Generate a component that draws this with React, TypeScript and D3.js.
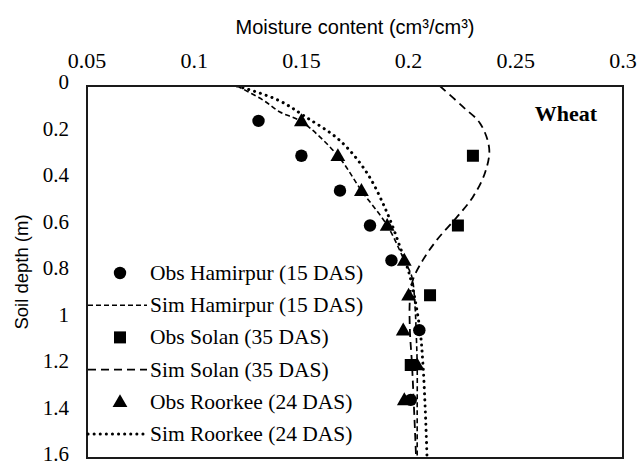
import React from "react";
import * as d3 from "d3";

// Axis ticks
const xTicks = [0.05, 0.1, 0.15, 0.2, 0.25, 0.3];
const xTickLabels = ["0.05", "0.1", "0.15", "0.2", "0.25", "0.3"];
const yTicks = [0, 0.2, 0.4, 0.6, 0.8, 1.0, 1.2, 1.4, 1.6];
const yTickLabels = ["0", "0.2", "0.4", "0.6", "0.8", "1", "1.2", "1.4", "1.6"];

// Observed moisture profiles (depth in m, moisture in cm3/cm3)
const obsHamirpurDepth = [0.15, 0.3, 0.45, 0.6, 0.75, 1.05, 1.35];
const obsHamirpurTheta = [0.13, 0.15, 0.168, 0.182, 0.192, 0.205, 0.201];
const obsSolanDepth = [0.3, 0.6, 0.9, 1.2];
const obsSolanTheta = [0.23, 0.223, 0.21, 0.201];
const obsRoorkeeDepth = [0.15, 0.3, 0.45, 0.6, 0.75, 0.9, 1.05, 1.2, 1.35];
const obsRoorkeeTheta = [0.15, 0.167, 0.178, 0.19, 0.198, 0.2, 0.1975, 0.204, 0.198];

// Simulated moisture profiles
const simHamirpurDepth = [0, 0.06, 0.112, 0.153, 0.3, 0.45, 0.6, 0.75, 0.82, 0.95, 1.05, 1.2, 1.4, 1.6];
const simHamirpurTheta = [0.12, 0.132, 0.14, 0.15, 0.167, 0.178, 0.19, 0.198, 0.2015, 0.203, 0.2035, 0.204, 0.204, 0.204];
const simSolanDepth = [0, 0.09, 0.16, 0.27, 0.374, 0.477, 0.563, 0.662, 0.748, 0.834, 0.92, 1.05, 1.2, 1.6];
const simSolanTheta = [0.2146, 0.2254, 0.2333, 0.2376, 0.2356, 0.23, 0.2226, 0.2132, 0.2067, 0.202, 0.2006, 0.2006, 0.2016, 0.2035];
const simRoorkeeDepth = [0, 0.06, 0.133, 0.235, 0.374, 0.546, 0.692, 0.821, 1.05, 1.2, 1.4, 1.6];
const simRoorkeeTheta = [0.12, 0.139, 0.152, 0.168, 0.1806, 0.19, 0.196, 0.2007, 0.2053, 0.2067, 0.2078, 0.2086];

const legendLabels = [
  "Obs Hamirpur (15 DAS)",
  "Sim Hamirpur (15 DAS)",
  "Obs Solan (35 DAS)",
  "Sim Solan (35 DAS)",
  "Obs Roorkee (24 DAS)",
  "Sim Roorkee (24 DAS)",
];

const W = 638;
const H = 465;
const plot = { left: 87, right: 623, top: 86, bottom: 458 };

const serif = "'Liberation Serif', 'Times New Roman', serif";
const sans = "'Liberation Sans', Arial, sans-serif";

type Pt = { d: number; t: number };
const zip = (ds: number[], ts: number[]): Pt[] => ds.map((d, i) => ({ d, t: ts[i] }));

const lineStyles = {
  hamirpur: { dash: "5 3", width: 1.6, cap: "butt" as const },
  solan: { dash: "8 5", width: 1.8, cap: "butt" as const },
  roorkee: { dash: "0.1 6", width: 3, cap: "round" as const },
};

export default function App() {
  const x = d3.scaleLinear().domain([0.05, 0.3]).range([plot.left, plot.right]);
  const y = d3.scaleLinear().domain([0, 1.6]).range([plot.top, plot.bottom]);

  const line = d3
    .line<Pt>()
    .x((p) => x(p.t))
    .y((p) => y(p.d))
    .curve(d3.curveCatmullRom.alpha(0.5));

  const tri = d3.symbol().type(d3.symbolTriangle).size(95)() as string;

  const sims = [
    { key: "roorkee", pts: zip(simRoorkeeDepth, simRoorkeeTheta), s: lineStyles.roorkee },
    { key: "hamirpur", pts: zip(simHamirpurDepth, simHamirpurTheta), s: lineStyles.hamirpur },
    { key: "solan", pts: zip(simSolanDepth, simSolanTheta), s: lineStyles.solan },
  ];

  const legendY0 = 273;
  const legendStep = 32.2;
  const legendMarkerX = 120;
  const legendTextX = 150;

  const drawMarker = (kind: string, cx: number, cy: number, k: string) => {
    if (kind === "circle") return <circle key={k} cx={cx} cy={cy} r={6.2} fill="#000" />;
    if (kind === "square")
      return <rect key={k} x={cx - 6} y={cy - 6} width={12} height={12} fill="#000" />;
    return <path key={k} d={tri} transform={`translate(${cx},${cy + 1})`} fill="#000" />;
  };

  const legendItems = [
    { type: "marker", kind: "circle" },
    { type: "line", s: lineStyles.hamirpur },
    { type: "marker", kind: "square" },
    { type: "line", s: lineStyles.solan },
    { type: "marker", kind: "triangle" },
    { type: "line", s: lineStyles.roorkee },
  ];

  return (
    <svg
      width={W}
      height={H}
      style={{ position: "absolute", left: 0, top: 0, background: "#fff" }}
    >
      <defs>
        <clipPath id="plot-clip">
          <rect x={plot.left} y={plot.top} width={plot.right - plot.left} height={plot.bottom - plot.top} />
        </clipPath>
      </defs>

      {/* Axis titles */}
      <text x={(plot.left + plot.right) / 2} y={34} textAnchor="middle" fontFamily={sans} fontSize={20} fill="#000">
        Moisture content (cm³/cm³)
      </text>
      <text
        transform={`translate(28,${(plot.top + plot.bottom) / 2}) rotate(-90)`}
        textAnchor="middle"
        fontFamily={sans}
        fontSize={18.5}
        fill="#000"
      >
        Soil depth (m)
      </text>

      {/* Top x tick labels */}
      {xTicks.map((v, i) => (
        <text key={`xt${i}`} x={x(v)} y={68} textAnchor="middle" fontFamily={serif} fontSize={22} fill="#000">
          {xTickLabels[i]}
        </text>
      ))}

      {/* Left y tick labels */}
      {yTicks.map((v, i) => (
        <text
          key={`yt${i}`}
          x={69}
          y={y(v) - 4}
          textAnchor="end"
          dominantBaseline="central"
          fontFamily={serif}
          fontSize={21}
          fill="#000"
        >
          {yTickLabels[i]}
        </text>
      ))}

      {/* Simulated profiles */}
      <g clipPath="url(#plot-clip)">
        {sims.map((sm) => (
          <path
            key={sm.key}
            d={line(sm.pts) as string}
            fill="none"
            stroke="#000"
            strokeWidth={sm.s.width}
            strokeDasharray={sm.s.dash}
            strokeLinecap={sm.s.cap}
          />
        ))}
      </g>

      {/* Observed profiles */}
      {zip(obsSolanDepth, obsSolanTheta).map((p, i) => drawMarker("square", x(p.t), y(p.d), `os${i}`))}
      {zip(obsRoorkeeDepth, obsRoorkeeTheta).map((p, i) => drawMarker("triangle", x(p.t), y(p.d), `or${i}`))}
      {zip(obsHamirpurDepth, obsHamirpurTheta).map((p, i) => drawMarker("circle", x(p.t), y(p.d), `oh${i}`))}

      {/* Plot frame */}
      <rect
        x={plot.left}
        y={plot.top}
        width={plot.right - plot.left}
        height={plot.bottom - plot.top}
        fill="none"
        stroke="#1a1a1a"
        strokeWidth={2}
      />

      {/* Crop label */}
      <text x={597} y={121} textAnchor="end" fontFamily={serif} fontWeight="bold" fontSize={22} fill="#000">
        Wheat
      </text>

      {/* Legend */}
      {legendItems.map((it, i) => {
        const cy = legendY0 + i * legendStep;
        return (
          <g key={`lg${i}`}>
            {it.type === "marker"
              ? drawMarker(it.kind as string, legendMarkerX, cy, `lm${i}`)
              : (
                <line
                  x1={88}
                  x2={147}
                  y1={cy}
                  y2={cy}
                  stroke="#000"
                  strokeWidth={it.s!.width}
                  strokeDasharray={it.s!.dash}
                  strokeLinecap={it.s!.cap}
                />
              )}
            <text x={legendTextX} y={cy} dominantBaseline="central" fontFamily={serif} fontSize={21.5} fill="#000">
              {legendLabels[i]}
            </text>
          </g>
        );
      })}
    </svg>
  );
}
